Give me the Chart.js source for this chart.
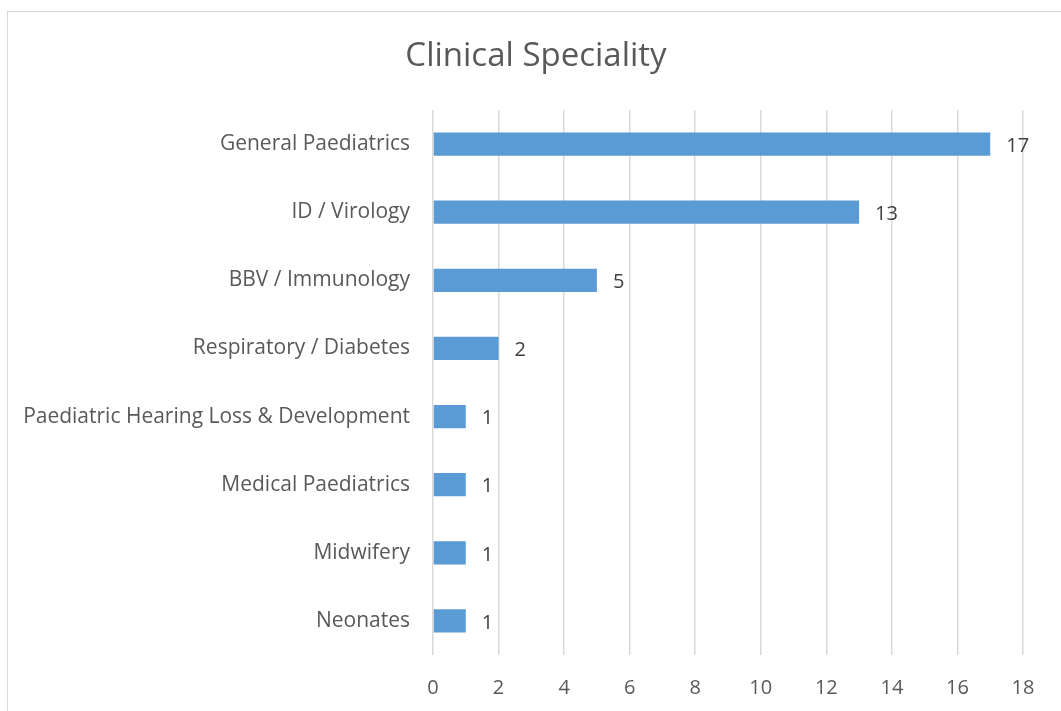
<!DOCTYPE html>
<html><head><meta charset="utf-8">
<script src="https://cdn.jsdelivr.net/npm/chart.js@4"></script>
<style>
html,body{margin:0;padding:0;background:#fff;overflow:hidden;}
#wrap{position:absolute;left:0;top:0;width:1061px;height:711px;}
#frame{position:absolute;left:7px;top:11px;width:1100px;height:800px;border:1px solid #d9d9d9;box-sizing:border-box;}
canvas{position:absolute;left:0;top:0;}
</style></head>
<body>
<div id="wrap"><div id="frame"></div><canvas id="c" width="1061" height="711"></canvas></div>
<script>
const categories = ["General Paediatrics","ID / Virology","BBV / Immunology","Respiratory / Diabetes","Paediatric Hearing Loss & Development","Medical Paediatrics","Midwifery","Neonates"];
const values = [17,13,5,2,1,1,1,1];
const xTicks = [0,2,4,6,8,10,12,14,16,18];
const titleText = "Clinical Speciality";
const FONT = "'Open Sans', sans-serif";

const titlePlugin = {
  id:'customTitle',
  afterDraw(chart){
    const ctx = chart.ctx;
    ctx.save();
    ctx.font = "33px " + FONT;
    ctx.fillStyle = "#595959";
    ctx.textAlign = "center";
    ctx.textBaseline = "middle";
    ctx.fillText(titleText, 536, 57);
    ctx.restore();
  }
};
const labelPlugin = {
  id:'dataLabels',
  afterDatasetsDraw(chart){
    const ctx = chart.ctx;
    const meta = chart.getDatasetMeta(0);
    ctx.save();
    ctx.font = "20px " + FONT;
    ctx.fillStyle = "#404040";
    ctx.textAlign = "left";
    ctx.textBaseline = "middle";
    meta.data.forEach((bar,i)=>{
      ctx.fillText(String(values[i]), bar.x + 16, bar.y + 2);
    });
    ctx.restore();
  }
};

new Chart(document.getElementById('c'), {
  type:'bar',
  data:{labels:categories, datasets:[{data:values, backgroundColor:'#5B9BD5', borderWidth:0, barPercentage:0.34, categoryPercentage:1}]},
  options:{
    indexAxis:'y',
    responsive:false,
    animation:false,
    devicePixelRatio:1,
    layout:{padding:{top:110,right:38,left:0,bottom:0}},
    plugins:{legend:{display:false},tooltip:{enabled:false},title:{display:false}},
    scales:{
      x:{
        min:0,max:18,
        afterBuildTicks(s){ s.ticks = xTicks.map(v=>({value:v})); },
        afterFit(s){ s.height = 56; },
        grid:{color:'#d9d9d9',lineWidth:1.5,drawTicks:false},
        border:{display:false},
        ticks:{color:'#595959',font:{family:FONT,size:20},padding:21}
      },
      y:{
        afterFit(s){ s.width = 433; },
        grid:{display:false},
        border:{display:false},
        ticks:{color:'#595959',font:{family:FONT,size:21},padding:15}
      }
    }
  },
  plugins:[titlePlugin,labelPlugin]
});
</script>
</body></html>
